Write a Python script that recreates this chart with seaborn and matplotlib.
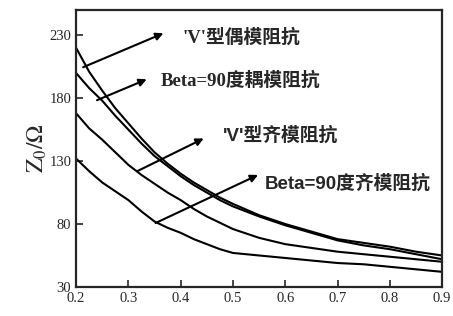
import pandas as pd
import seaborn as sns
import matplotlib
matplotlib.use("Agg")
import matplotlib.pyplot as plt

# === data ===
width_ratio = [0.2, 0.225, 0.25, 0.275, 0.3, 0.325, 0.35, 0.375, 0.4, 0.425, 0.45,
               0.475, 0.5, 0.55, 0.6, 0.65, 0.7, 0.75, 0.8, 0.85, 0.9]
v_even = [220, 201, 186, 172, 160, 148, 137, 128, 120, 113, 107,
          101, 96, 87, 80, 74, 68, 65, 62, 58, 55]
beta_even = [200, 188, 178, 166, 155, 144, 134, 126, 118, 111, 105,
             99, 94, 86, 79, 73, 67, 63, 60, 56, 52]
v_odd = [168, 156, 147, 137, 127, 119, 112, 105, 99, 92, 86,
         81, 76, 69, 64, 61, 58, 56, 54, 52, 50]
beta_odd = [132, 122, 113, 106, 99, 90, 82, 77, 73, 68, 64,
            60, 57, 55, 53, 51, 49, 48, 46, 44, 42]

labels = ["'V'型偶模阻抗", "Beta=90度耦模阻抗", "'V'型齐模阻抗", "Beta=90度齐模阻抗"]
x_ticks = [0.2, 0.3, 0.4, 0.5, 0.6, 0.7, 0.8, 0.9]
y_ticks = [30, 80, 130, 180, 230]

df = pd.DataFrame({
    "w": width_ratio * 4,
    "z": v_even + beta_even + v_odd + beta_odd,
    "curve": sum([[lab] * len(width_ratio) for lab in labels], []),
})

sns.set_style("ticks")
plt.rcParams["font.family"] = ["Liberation Serif", "Noto Sans CJK SC"]
plt.rcParams["mathtext.fontset"] = "stix"
plt.rcParams["xtick.direction"] = "in"
plt.rcParams["ytick.direction"] = "in"

fig = plt.figure(figsize=(4.53, 3.16), dpi=100)
ax = fig.add_axes([0.168, 0.092, 0.808, 0.876])

sns.lineplot(data=df, x="w", y="z", units="curve", estimator=None,
             color="black", linewidth=1.5, legend=False, ax=ax)

ax.set_xlim(0.2, 0.9)
ax.set_ylim(30, 250)
ax.set_xticks(x_ticks)
ax.set_yticks(y_ticks)
ax.set_xticklabels([f"{t:.1f}" for t in x_ticks], fontsize=10.5)
ax.set_yticklabels([str(t) for t in y_ticks], fontsize=10.5)
ax.set_xlabel("")
ax.set_ylabel(r"$\mathrm{Z}_0/\Omega$", fontsize=17, labelpad=0)
for s in ax.spines.values():
    s.set_linewidth(1.6)
ax.tick_params(length=5, width=1.2)

# arrows (tail on curve, head at label) and labels
arrows = [((0.2135, 204.6), (0.367, 231.6)),
          ((0.240, 178.4), (0.335, 195.0)),
          ((0.317, 122.0), (0.444, 148.0)),
          ((0.352, 80.8), (0.548, 119.0))]
text_pos = [(0.403, 228.4), (0.3615, 194.3), (0.481, 150.6), (0.560, 112.5)]
text_family = [["Liberation Serif", "Noto Sans CJK SC"],
               ["Liberation Serif", "Noto Sans CJK SC"],
               ["Liberation Sans", "Noto Sans CJK SC"],
               ["Liberation Sans", "Noto Sans CJK SC"]]
for (tail, head), pos, lab, fam in zip(arrows, text_pos, labels, text_family):
    ax.annotate("", xy=head, xytext=tail,
                arrowprops=dict(arrowstyle="-|>", color="black", lw=1.5,
                                mutation_scale=11, shrinkA=0, shrinkB=0))
    ax.text(pos[0], pos[1], lab, fontsize=13.5, fontweight="bold", va="center",
            ha="left", family=fam)

fig.savefig("out.png", dpi=100)
